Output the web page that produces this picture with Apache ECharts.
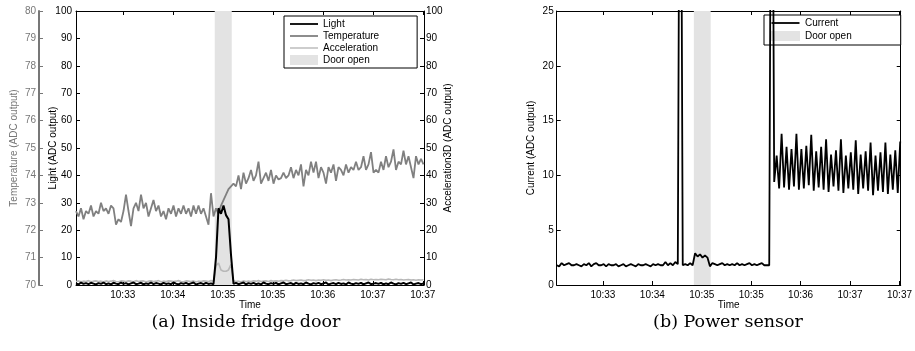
<!DOCTYPE html>
<html>
<head>
<meta charset="utf-8">
<script src="https://cdn.jsdelivr.net/npm/echarts/dist/echarts.min.js"></script>
<style>
html,body{margin:0;padding:0;background:#fff;}
#chart{width:915px;height:351px;}
</style>
</head>
<body>
<div id="chart"></div>
<script>
// ---- data ----
const SAMPLE_S = 2; // seconds between samples
const xTickValues = [37.4, 77.4, 117.4, 157.4, 197.4, 237.4, 277.4];
const xTickLabels = ['10:33', '10:34', '10:35', '10:35', '10:36', '10:37', '10:37'];
const timeMax = 278.4;
const doorOpen = [111, 124.6];

const temperature = [
72.7,72.5,72.8,72.4,72.7,72.6,72.9,72.5,72.7,72.6,
73.0,72.7,72.8,72.6,72.9,72.8,72.2,72.4,72.3,72.7,
73.3,72.7,72.15,72.8,73.0,72.7,73.3,72.8,73.0,72.5,
72.8,73.1,72.7,72.9,72.5,72.7,72.4,72.8,72.6,72.9,
72.5,72.8,72.6,72.9,72.6,72.8,72.5,72.9,72.6,72.9,
72.6,72.8,72.5,72.2,73.35,72.5,72.8,72.6,72.9,73.1,
73.3,73.5,73.6,73.7,73.6,74.0,73.5,74.1,73.7,73.9,
74.2,73.8,74.0,74.5,73.7,73.9,74.1,73.8,74.2,73.7,
74.0,73.85,73.9,74.1,73.9,74.0,74.3,73.9,74.2,74.0,
74.4,73.6,74.2,74.0,74.5,74.1,74.5,73.9,74.3,74.1,
73.7,74.3,74.1,74.4,73.8,74.3,74.2,74.0,74.4,74.1,
74.3,74.2,74.5,74.2,74.3,74.7,74.2,74.4,74.85,74.1,
74.2,74.1,74.5,74.2,74.7,74.3,74.5,74.95,74.2,74.5,
74.4,74.9,74.4,74.7,74.3,73.9,74.7,74.4,74.6,74.4
];

const light = [
0.6,0.2,0.9,0.4,0.7,0.3,0.8,0.5,0.2,0.7,
0.4,0.9,0.3,0.6,0.2,0.8,0.5,0.3,0.9,0.4,
0.7,0.2,0.6,0.9,0.3,0.5,0.8,0.2,0.6,0.4,
0.9,0.3,0.7,0.5,0.2,0.8,0.4,0.6,0.3,0.9,
0.5,0.2,0.7,0.4,0.8,0.3,0.6,0.9,0.2,0.5,
0.7,0.3,0.8,0.4,0.6,0.3,
10,28,26,29,25.5,24,11,
0.4,0.8,0.3,0.6,0.9,0.2,0.7,
0.4,0.8,0.3,0.6,0.2,0.9,0.5,0.3,0.7,0.4,
0.8,0.2,0.6,0.9,0.3,0.5,0.7,0.2,0.8,0.4,
0.6,0.3,0.9,0.5,0.2,0.7,0.4,0.8,0.3,0.6,
0.9,0.2,0.5,0.7,0.3,0.8,0.4,0.6,0.2,0.9,
0.5,0.3,0.7,0.4,0.8,0.2,0.6,0.9,0.3,0.5,
0.7,0.4,0.8,0.2,0.6,0.3,0.9,0.5,0.2,0.7,
0.4,0.8,0.3,0.6,0.9,0.2,0.5,0.7,0.3,0.6
];

const acceleration = [
1.3,1.5,1.2,1.4,1.3,1.6,1.2,1.4,1.5,1.3,
1.4,1.2,1.5,1.3,1.4,1.6,1.3,1.2,1.5,1.4,
1.3,1.5,1.4,1.2,1.6,1.3,1.4,1.5,1.2,1.4,
1.5,1.3,1.4,1.6,1.2,1.4,1.3,1.5,1.4,1.3,
1.4,1.6,1.3,1.2,1.5,1.4,1.3,1.5,1.2,1.4,
1.3,1.5,1.4,1.3,1.6,1.4,
7,8,5.5,5,5,5.5,7.5,
1.5,1.3,1.4,1.2,1.5,1.3,1.4,
1.3,1.5,1.4,1.6,1.3,1.4,1.5,1.3,1.6,1.4,
1.5,1.4,1.6,1.5,1.7,1.5,1.6,1.8,1.6,1.7,
1.8,1.6,1.7,1.9,1.7,1.8,1.6,1.8,1.7,1.9,
1.7,1.8,1.6,1.8,1.9,1.7,1.8,2.0,1.8,1.9,
1.8,2.0,1.9,1.8,2.1,1.9,2.0,1.8,2.1,1.9,
2.0,1.9,2.1,2.0,1.9,2.2,2.0,1.9,2.1,1.9,
2.0,1.8,1.9,2.0,1.8,1.9,1.7,1.9,1.8,1.9
];

const current = [
1.8,1.7,2.0,1.8,1.9,2.0,1.8,1.8,1.9,1.8,
1.7,1.9,1.8,2.0,1.7,1.9,2.0,1.8,1.8,1.9,
1.7,1.9,1.8,1.8,1.9,1.7,1.8,1.9,1.7,1.8,
1.9,1.8,1.7,1.9,1.8,1.8,1.9,1.8,1.7,1.9,
1.8,1.9,1.8,1.8,2.1,1.8,2.0,1.8,2.1,1.9,
60,
1.8,1.9,1.8,2.0,1.8,
2.9,2.6,2.8,2.5,2.7,2.5,
1.7,
2.0,1.9,1.8,1.9,2.0,1.8,1.9,1.8,1.9,1.8,2.0,1.8,1.9,1.8,1.9,2.0,1.8,1.9,1.8,1.9,2.0,1.8,1.8,
1.8,
60,
9.4,11.8,
8.8,13.8,8.9,12.6,8.7,12.4,9.0,13.8,8.7,12.4,
8.8,12.7,9.1,13.7,8.6,12.2,8.9,12.6,8.7,13.3,
8.5,11.9,9.0,12.3,8.6,13.3,8.4,11.8,8.8,12.1,
8.7,13.2,8.3,11.9,8.8,12.2,8.6,13.0,8.2,11.8,
8.6,12.1,8.5,13.0,8.3,11.9,8.7,12.3,8.4,13.1
];

// ---- build ----
const toPairs = arr => arr.map((v, i) => [i * SAMPLE_S, v]);
const FONT = 'Liberation Sans, Arial, Helvetica, sans-serif';
const DOOR_COLOR = '#e3e3e3';
const LINE_ICON = 'path://M0,0 M0,10 M0,4.1 L28,4.1 L28,5.9 L0,5.9 Z';
const THIN_ICON = 'path://M0,0 M0,10 M0,4.3 L28,4.3 L28,5.7 L0,5.7 Z';

function xAx(grid, pos, showLabels) {
  return {
    gridIndex: grid, type: 'value', position: pos, min: 0, max: timeMax,
    splitLine: {show: false},
    axisLine: {show: true, onZero: false, lineStyle: {color: '#000', width: 1}},
    axisTick: {show: true, inside: true, length: 4, customValues: xTickValues, lineStyle: {color: '#000'}},
    axisLabel: {
      show: showLabels, customValues: xTickValues, margin: 5,
      fontFamily: FONT, fontSize: 10, color: '#000',
      formatter: v => { const k = xTickValues.findIndex(t => Math.abs(t - v) < 0.01); return k >= 0 ? xTickLabels[k] : ''; }
    },
    name: showLabels ? 'Time' : '', nameLocation: 'middle', nameGap: 15, nameMoveOverlap: false,
    nameTextStyle: {fontFamily: FONT, fontSize: 10, color: '#000'}
  };
}
function yAx(grid, pos, min, max, interval, name, opts) {
  opts = opts || {};
  const color = opts.color || '#000';
  return {
    gridIndex: grid, type: 'value', position: pos, min: min, max: max, interval: interval,
    offset: opts.offset || 0,
    splitLine: {show: false},
    axisLine: {show: true, onZero: false, lineStyle: {color: color, width: opts.lineWidth || 1}},
    axisTick: {show: true, inside: true, length: 4, lineStyle: {color: color}},
    axisLabel: {show: opts.labels !== false, margin: opts.margin || 4, fontFamily: FONT, fontSize: 10, color: color},
    name: name, nameLocation: 'middle', nameRotate: 90, nameGap: opts.nameGap || 18, nameMoveOverlap: false,
    nameTextStyle: {fontFamily: FONT, fontSize: 10, color: color}
  };
}

const option = {
  animation: false,
  backgroundColor: '#fff',
  grid: [
    {left: 76, top: 11, width: 348, height: 274},
    {left: 556.7, top: 11, width: 347.6, height: 274}
  ],
  xAxis: [
    xAx(0, 'bottom', true), xAx(0, 'top', false),
    xAx(1, 'bottom', true), xAx(1, 'top', false)
  ],
  yAxis: [
    yAx(0, 'left', 0, 100, 10, 'Light (ADC output)', {nameGap: 18}),
    yAx(0, 'right', 0, 100, 10, 'Acceleration3D (ADC output)', {nameGap: 19, margin: 2}),
    yAx(0, 'left', 70, 80, 1, 'Temperature (ADC output)', {offset: 37, color: '#777', lineWidth: 2, nameGap: 20, margin: 3}),
    yAx(1, 'left', 0, 25, 5, 'Current (ADC output)', {nameGap: 20, margin: 3}),
    yAx(1, 'right', 0, 25, 5, '', {labels: false})
  ],
  legend: [
    {
      data: [
        {name: 'Light', icon: LINE_ICON},
        {name: 'Temperature', icon: LINE_ICON},
        {name: 'Acceleration', icon: THIN_ICON},
        {name: 'Door open', icon: 'rect'}
      ],
      orient: 'vertical', left: 284, top: 16, padding: [3, 38, 3, 6],
      itemWidth: 28, itemHeight: 10, itemGap: 2, selectedMode: false,
      borderColor: '#000', borderWidth: 1, backgroundColor: '#fff',
      textStyle: {fontFamily: FONT, fontSize: 10, color: '#000', lineHeight: 10}
    },
    {
      data: [
        {name: 'Current', icon: LINE_ICON},
        {name: 'Door open', icon: 'rect'}
      ],
      orient: 'vertical', left: 764, top: 15, padding: [3, 49, 4, 7],
      itemWidth: 29, itemHeight: 10, itemGap: 3, selectedMode: false,
      borderColor: '#000', borderWidth: 1, backgroundColor: '#fff',
      textStyle: {fontFamily: FONT, fontSize: 10, color: '#000', lineHeight: 10}
    }
  ],
  graphic: [
    {type: 'text', x: 246, y: 322, style: {text: '(a) Inside fridge door', fontFamily: 'DejaVu Serif', fontSize: 17.5, fill: '#000', align: 'center', verticalAlign: 'middle'}},
    {type: 'text', x: 728, y: 322, style: {text: '(b) Power sensor', fontFamily: 'DejaVu Serif', fontSize: 17.5, fill: '#000', align: 'center', verticalAlign: 'middle'}}
  ],
  series: [
    {
      name: 'Door open', type: 'line', xAxisIndex: 0, yAxisIndex: 0, data: [], z: 1,
      color: DOOR_COLOR, itemStyle: {color: DOOR_COLOR}, lineStyle: {opacity: 0}, symbol: 'none',
      markArea: {silent: true, itemStyle: {color: DOOR_COLOR, opacity: 1}, data: [[{xAxis: doorOpen[0]}, {xAxis: doorOpen[1]}]]}
    },
    {
      name: 'Temperature', type: 'line', xAxisIndex: 0, yAxisIndex: 2, data: toPairs(temperature), z: 2,
      symbol: 'none', color: '#808080', itemStyle: {color: '#808080'}, lineStyle: {color: '#808080', width: 1.8}
    },
    {
      name: 'Acceleration', type: 'line', xAxisIndex: 0, yAxisIndex: 1, data: toPairs(acceleration), z: 3,
      symbol: 'none', color: '#b8b8b8', itemStyle: {color: '#b8b8b8'}, lineStyle: {color: '#b8b8b8', width: 1.6}
    },
    {
      name: 'Light', type: 'line', xAxisIndex: 0, yAxisIndex: 0, data: toPairs(light), z: 4,
      symbol: 'none', color: '#000', itemStyle: {color: '#000'}, lineStyle: {color: '#000', width: 2}
    },
    {
      name: 'Door open', type: 'line', xAxisIndex: 2, yAxisIndex: 3, data: [], z: 1,
      color: DOOR_COLOR, itemStyle: {color: DOOR_COLOR}, lineStyle: {opacity: 0}, symbol: 'none',
      markArea: {silent: true, itemStyle: {color: DOOR_COLOR, opacity: 1}, data: [[{xAxis: doorOpen[0]}, {xAxis: doorOpen[1]}]]}
    },
    {
      name: 'Current', type: 'line', xAxisIndex: 2, yAxisIndex: 3, data: toPairs(current), z: 4,
      symbol: 'none', color: '#000', itemStyle: {color: '#000'}, lineStyle: {color: '#000', width: 1.8}
    }
  ]
};

const chart = echarts.init(document.getElementById('chart'), null, {renderer: 'canvas'});
chart.setOption(option);
</script>
</body>
</html>
